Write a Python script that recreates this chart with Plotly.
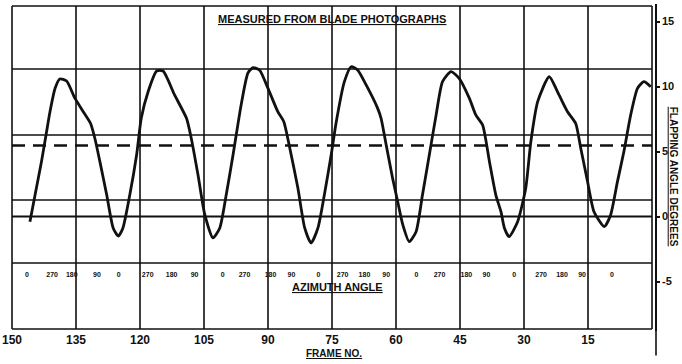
import plotly.graph_objects as go

# ---- data ----
frame = [145.8, 144.6, 143.1, 141.9, 141.1, 139.9, 138.8, 137.2, 135.3, 133.3, 131.6, 130.6,
         129.4, 127.8, 126.3, 125.1, 124.0, 122.4, 120.8, 119.7, 118.1, 116.1, 114.6, 111.9,
         109.1, 108.0, 106.4, 104.8, 102.9, 101.3, 99.8, 98.2, 96.3, 94.7, 93.5, 92.0, 90.0,
         87.7, 86.3, 84.9, 83.0, 81.4, 79.9, 78.3, 76.8, 75.2, 74.0, 72.1, 70.5, 69.0, 67.0,
         64.3, 63.5, 62.3, 60.8, 59.6, 58.4, 56.9, 55.3, 53.8, 52.2, 50.6, 49.1, 47.1, 45.2,
         42.8, 41.3, 39.7, 38.1, 36.6, 35.4, 34.6, 33.5, 31.5, 29.6, 28.4, 26.8, 24.1, 21.8,
         19.8, 17.9, 16.7, 15.1, 13.6, 11.2, 9.7, 8.1, 6.6, 5.0, 3.4, 1.9, 0.3]
flap_deg = [-0.40, 1.65, 4.22, 6.52, 8.06, 9.86, 10.58, 10.42, 9.12, 8.06, 7.17, 6.04,
            4.22, 1.65, -0.88, -1.50, -0.88, 1.65, 4.73, 7.58, 9.60, 11.19, 11.19, 9.35,
            7.55, 6.04, 3.19, 0.12, -1.65, -0.88, 1.65, 4.73, 8.58, 11.04, 11.45, 11.27, 9.86,
            8.06, 7.29, 5.27, 2.19, -0.88, -2.04, -0.88, 1.65, 4.73, 7.29, 10.37, 11.52, 11.27, 10.12,
            8.32, 7.55, 5.50, 2.94, 1.14, -0.65, -1.94, -1.17, 1.65, 4.73, 7.81, 10.37, 11.14, 10.63,
            9.09, 7.81, 7.04, 4.22, 1.65, 0.37, -0.88, -1.55, -0.40, 2.17, 5.75, 8.83, 10.75, 9.35,
            8.06, 7.17, 5.25, 2.68, 0.37, -0.78, 0.12, 2.68, 4.98, 7.81, 9.86, 10.37, 9.98]

mean_flap = 5.46

azimuth_frame = [146.5, 140.6, 136.0, 130.1, 125.0, 118.2, 112.6, 107.2, 100.6, 95.5, 89.4,
                 84.5, 78.2, 72.5, 67.4, 62.3, 55.2, 49.8, 43.5, 38.8, 32.3, 26.0, 21.1, 16.4, 9.4]
azimuth_text = ["0", "270", "180", "90"] * 6 + ["0"]
azimuth_row = -4.5

frame_ticks = [150, 135, 120, 105, 90, 75, 60, 45, 30, 15]
frame_grid = [150, 135, 120, 105, 90, 75, 60, 45, 30, 15, 0]
deg_ticks = [15, 10, 5, 0, -5]
deg_grid = [16.19, 11.35, 6.27, 1.27, -3.58, -8.65]

FONT = "Liberation Sans"
INK = "#111111"

fig = go.Figure()

# grid (paper grid of the original chart)
for f in frame_grid:
    fig.add_shape(type="line", xref="x", yref="y", x0=f, x1=f, y0=deg_grid[-1], y1=deg_grid[0],
                  line=dict(color=INK, width=1.6), layer="below")
for d in deg_grid:
    fig.add_shape(type="line", xref="x", yref="y", x0=frame_grid[0], x1=frame_grid[-1], y0=d, y1=d,
                  line=dict(color=INK, width=1.6), layer="below")
# zero line
fig.add_shape(type="line", xref="x", yref="y", x0=frame_grid[0], x1=frame_grid[-1], y0=0, y1=0,
              line=dict(color=INK, width=2.2), layer="below")

# mean (dashed) line
fig.add_trace(go.Scatter(x=[frame_grid[0], frame_grid[-1]], y=[mean_flap, mean_flap], mode="lines",
                         line=dict(color=INK, width=2.6, dash="13px,8px"), hoverinfo="skip"))

# flapping angle curve
fig.add_trace(go.Scatter(x=frame, y=flap_deg, mode="lines",
                         line=dict(color=INK, width=2.8, shape="spline", smoothing=0.6)))

# azimuth labels
fig.add_trace(go.Scatter(x=azimuth_frame, y=[azimuth_row] * len(azimuth_frame), mode="text",
                         text=azimuth_text, textfont=dict(family=FONT, size=7, color=INK, weight="bold"),
                         hoverinfo="skip"))

# extra outer right line (double border) extending below
fig.add_shape(type="line", xref="paper", yref="paper", x0=0.99691, x1=0.99691, y0=-0.075, y1=1.0,
              line=dict(color=INK, width=1.6))

fig.add_annotation(text="<u>MEASURED FROM BLADE PHOTOGRAPHS</u>", x=75, xref="x", y=15.2, yref="y",
                   showarrow=False, font=dict(family=FONT, size=11, color=INK, weight="bold"))
fig.add_annotation(text="<u>AZIMUTH ANGLE</u>", x=73.8, xref="x", y=-5.45, yref="y",
                   showarrow=False, font=dict(family=FONT, size=11, color=INK, weight="bold"))
fig.add_annotation(text="<u>FRAME NO.</u>", x=74.5, xref="x", y=-0.045, yref="paper", yanchor="top",
                   showarrow=False, font=dict(family=FONT, size=10, color=INK, weight="bold"))
fig.add_annotation(text="<u>FLAPPING ANGLE DEGREES</u>", x=1.0, xref="paper", xanchor="left", xshift=8,
                   y=3.1, yref="y", textangle=90, showarrow=False,
                   font=dict(family=FONT, size=10, color=INK, weight="bold"))

fig.update_layout(
    width=682, height=364,
    margin=dict(l=10, r=24, t=4, b=33, autoexpand=False),
    paper_bgcolor="white", plot_bgcolor="white",
    showlegend=False,
    xaxis=dict(range=[150.47, -0.70], domain=[0, 0.99537], showgrid=False, zeroline=False,
               showline=False, tickvals=frame_ticks, ticktext=[str(v) for v in frame_ticks],
               ticks="", automargin=False,
               tickfont=dict(family=FONT, size=12, color=INK, weight="bold")),
    yaxis=dict(range=[-8.808, 16.346], side="right", anchor="free", position=0.99691,
               showgrid=False, zeroline=False, showline=True, linecolor=INK, linewidth=1.6,
               tickvals=deg_ticks, ticktext=[str(v) for v in deg_ticks], ticks="outside",
               ticklen=3, tickwidth=1.6, tickcolor=INK, automargin=False,
               tickfont=dict(family=FONT, size=11, color=INK, weight="bold")),
)

fig.write_html("out.html", config={"displayModeBar": False},
               post_script="document.body.style.margin='0';document.body.style.overflow='hidden';")
